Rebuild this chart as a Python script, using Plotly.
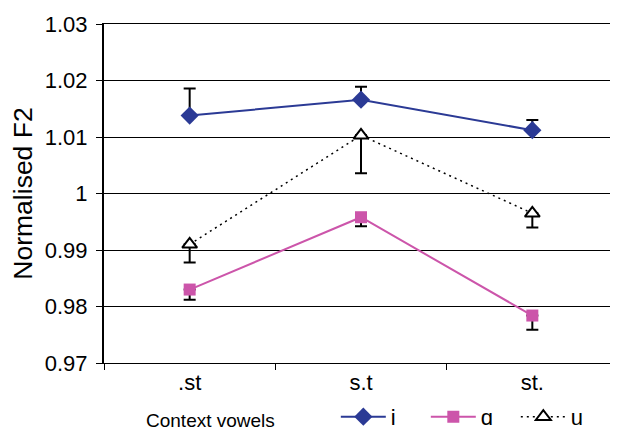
import plotly.graph_objects as go

categories = [".st", "s.t", "st."]
i_vals = [1.0138, 1.0166, 1.0112]
i_err_plus = [0.0048, 0.0023, 0.0018]
a_vals = [0.9830, 0.9958, 0.9784]
a_err_minus = [0.0018, 0.0016, 0.0025]
u_vals = [0.9910, 1.0103, 0.9965]
u_err_minus = [0.0032, 0.0067, 0.0025]
y_ticks = [0.97, 0.98, 0.99, 1.00, 1.01, 1.02, 1.03]
y_tick_labels = ["0.97", "0.98", "0.99", "1", "1.01", "1.02", "1.03"]

FONT = "Liberation Sans, Arial, Helvetica, sans-serif"

fig = go.Figure()
fig.add_trace(go.Scatter(
    x=categories, y=i_vals, name="i", mode="lines+markers",
    line=dict(color="#2B3A95", width=2),
    marker=dict(symbol="diamond", size=14, color="#2B3A95"),
    error_y=dict(type="data", symmetric=False, array=i_err_plus, arrayminus=[0, 0, 0],
                 color="black", thickness=2, width=6),
))
fig.add_trace(go.Scatter(
    x=categories, y=a_vals, name="ɑ", mode="lines+markers",
    line=dict(color="#CC55AA", width=2),
    marker=dict(symbol="square", size=12, color="#CC55AA"),
    error_y=dict(type="data", symmetric=False, array=[0, 0, 0], arrayminus=a_err_minus,
                 color="black", thickness=2, width=6),
))
fig.add_trace(go.Scatter(
    x=categories, y=u_vals, name="u", mode="lines+markers",
    line=dict(color="black", width=1.5, dash="2px,4px"),
    marker=dict(symbol="triangle-up", size=13, color="white", line=dict(color="black", width=2)),
    error_y=dict(type="data", symmetric=False, array=[0, 0, 0], arrayminus=u_err_minus,
                 color="black", thickness=2, width=6),
))

fig.update_layout(
    width=610, height=422,
    margin=dict(l=96, r=0, t=16, b=67, autoexpand=False),
    paper_bgcolor="white", plot_bgcolor="white",
    font=dict(family=FONT, color="black"),
    showlegend=True,
    legend=dict(orientation="h", x=0.451, y=-0.159, xanchor="left", yanchor="middle",
                font=dict(size=22, family=FONT), bgcolor="rgba(0,0,0,0)",
                itemwidth=45, entrywidth=30, entrywidthmode="pixels", tracegroupgap=0),
    annotations=[dict(text="Context vowels", x=0.078, y=-0.171, xref="paper", yref="paper",
                      xanchor="left", yanchor="middle", showarrow=False,
                      font=dict(size=19, family=FONT))],
)
fig.update_xaxes(
    type="category", range=[-0.5, 2.5], automargin=False,
    showgrid=False, zeroline=False,
    showline=True, mirror=True, linecolor="black", linewidth=1,
    ticks="outside", tickson="boundaries", ticklen=6, tickcolor="black", tickwidth=1,
    tickfont=dict(size=22, family=FONT),
)
fig.update_yaxes(
    range=[0.97, 1.03], tickvals=y_ticks, ticktext=y_tick_labels, automargin=False,
    showgrid=True, gridcolor="black", gridwidth=1, zeroline=False,
    showline=True, linecolor="black", linewidth=2,
    ticks="outside", ticklen=6, tickcolor="black", tickwidth=1, ticklabelstandoff=4,
    tickfont=dict(size=22, family=FONT),
    title=dict(text="Normalised F2", font=dict(size=26.5, family=FONT), standoff=16),
)
fig.write_html("out.html")
